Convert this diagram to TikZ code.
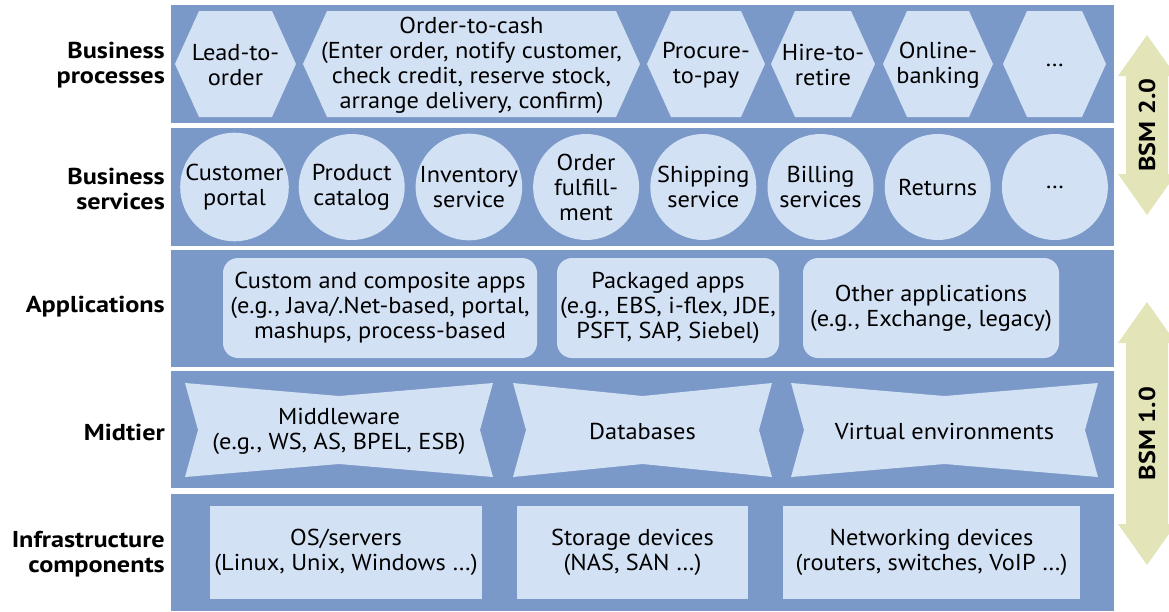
\documentclass[tikz,border=0pt]{standalone}
\usepackage{fontspec}
\setmainfont[FakeStretch=1.06,BoldFeatures={FakeStretch=1.14}]{PT Sans}
\usepackage{tikz}

\definecolor{bandblue}{HTML}{7A98C8}
\definecolor{liteblue}{HTML}{D3E1F4}
\definecolor{bsmyellow}{HTML}{E3E4B7}

\begin{document}
\begin{tikzpicture}[x=1pt,y=-1pt,
    band/.style={fill=bandblue},
    lite/.style={fill=liteblue},
    txt/.style={align=center,inner sep=0pt,font=\fontsize{23}{25}\selectfont},
    layer/.style={anchor=east,align=right,inner sep=0pt,yshift=-2pt,font=\fontsize{23}{25}\selectfont\bfseries},
    appbox/.style={lite,rounded corners=15pt,minimum height=100pt,txt},
    infrabox/.style={lite,minimum height=93pt,txt}]
    \useasboundingbox (0,0) rectangle (1169,611);
    \clip (0,0) rectangle (1169,611);
    \def\ax{1147}
    % layer bands
    \foreach \t/\b in {5/123,128/246,250/367,371/488,494/611}
        \fill[band] (171,\t) rectangle (1114,\b);
    \node[layer] (lproc) at (165,63) {Business\\processes};
    \node[layer] (lserv) at (165,187) {Business\\services};
    \node[layer] (lapps) at (165,305) {Applications};
    \node[layer] (lmid) at (165,430) {Midtier};
    \node[layer] (linfra) at (165,552) {Infrastructure\\components};
    % business processes
    \foreach \l/\r/\t [count=\i] in {175/296/{Lead-to-\\order},
            303/640/{Order-to-cash\\(Enter order, notify customer,\\check credit, reserve stock,\\arrange delivery, confirm)},
            647/765/{Procure-\\to-pay}, 771/875/{Hire-to-\\retire},
            883/993/{Online-\\banking}, 1003/1106/{…}} {
        \fill[lite] (\l,64) -- (\l+24,11) -- (\r-24,11) -- (\r,64) -- (\r-24,117) -- (\l+24,117) -- cycle;
        \node[txt] (proc\i) at ({(\l+\r)/2},65) {\t};
    }
    % business services
    \foreach \t [count=\i from 0] in {{Customer\\portal}, {Product\\catalog},
            {Inventory\\service}, {Order\\fulfill-\\ment}, {Shipping\\service},
            {Billing\\services}, Returns, {…}}
        \node[lite,circle,minimum size=106pt,txt] (serv\i) at ({234.5+117.2*\i},187) {\t};
    % applications
    \node[appbox,minimum width=314pt] (custom) at (380,308) {Custom and composite apps\\(e.g., Java/.Net-based, portal,\\mashups, process-based};
    \node[appbox,minimum width=222pt] (packaged) at (668,308) {Packaged apps\\(e.g., EBS, i-flex, JDE,\\PSFT, SAP, Siebel)};
    \node[appbox,minimum width=256pt] (other) at (931,308) {Other applications\\(e.g., Exchange, legacy)};
    % midtier
    \foreach \l/\r/\t [count=\i] in {185/493/{Middleware\\(e.g., WS, AS, BPEL, ESB)},
            513/772/Databases, 791/1098/{Virtual environments}} {
        \fill[lite] (\l,383) -- ({(\l+\r)/2},396) -- (\r,383) -- (\r-13,430) -- (\r,477)
            -- ({(\l+\r)/2},464) -- (\l,477) -- (\l+13,430) -- cycle;
        \node[txt] (mid\i) at ({(\l+\r)/2},431) {\t};
    }
    % infrastructure
    \node[infrabox,minimum width=272pt] (os) at (346,552.5) {OS/servers\\(Linux, Unix, Windows …)};
    \node[infrabox,minimum width=231pt] (storage) at (632.5,552.5) {Storage devices\\(NAS, SAN …)};
    \node[infrabox,minimum width=297pt] (network) at (931.5,552.5) {Networking devices\\(routers, switches, VoIP …)};
    % BSM arrows
    \foreach \t/\b/\n [count=\i] in {35/215/2.0, 302/565/1.0} {
        \fill[bsmyellow] (\ax,\t) -- (\ax+29,\t+41) -- (\ax+21,\t+41) -- (\ax+21,\b-41)
            -- (\ax+29,\b-41) -- (\ax,\b) -- (\ax-29,\b-41) -- (\ax-21,\b-41)
            -- (\ax-21,\t+41) -- (\ax-29,\t+41) -- cycle;
        \node[rotate=90,inner sep=0pt,font=\fontsize{23}{25}\selectfont\bfseries] (bsm\i) at (\ax,{(\t+\b)/2}) {BSM \n};
    }
\end{tikzpicture}
\end{document}
